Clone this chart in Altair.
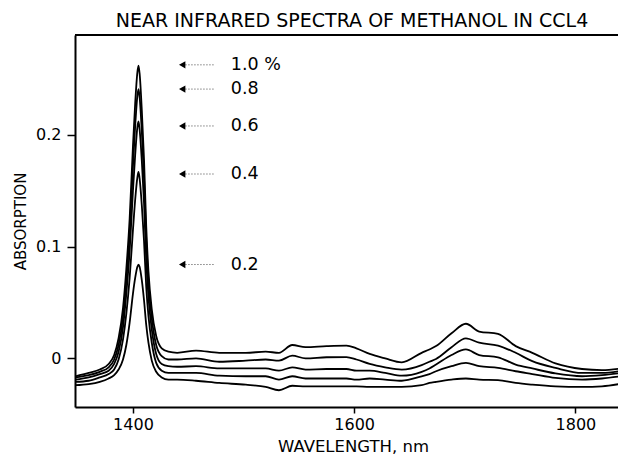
import altair as alt
import pandas as pd

TITLE = "NEAR INFRARED SPECTRA OF METHANOL IN CCL4"

# Wavelength grid (nm)
wavelength = [1348, 1360, 1370, 1378, 1383, 1387, 1391, 1394, 1397, 1400,
              1402, 1404, 1405, 1406, 1408, 1410, 1412, 1414, 1417, 1421,
              1426, 1432, 1440, 1457, 1478, 1502, 1520, 1532, 1544, 1556,
              1575, 1593, 1602, 1614, 1628, 1643, 1661, 1668, 1674, 1688,
              1701, 1713, 1730, 1746, 1761, 1782, 1806, 1824, 1845]

abs_10 = [-0.016, -0.013, -0.010, -0.005, 0.003, 0.018, 0.045, 0.080, 0.125, 0.190,
          0.228, 0.256, 0.262, 0.255, 0.222, 0.178, 0.118, 0.078, 0.044, 0.020,
          0.009, 0.006, 0.005, 0.007, 0.005, 0.005, 0.006, 0.005, 0.012, 0.010,
          0.011, 0.0115, 0.009, 0.004, 0.000, -0.0035, 0.005, 0.008, 0.011, 0.0225,
          0.031, 0.024, 0.022, 0.011, 0.005, -0.0045, -0.0095, -0.0105, -0.0085]

abs_08 = [-0.017, -0.015, -0.012, -0.008, -0.001, 0.012, 0.037, 0.070, 0.112, 0.172,
          0.208, 0.235, 0.241, 0.234, 0.203, 0.161, 0.106, 0.068, 0.036, 0.012,
          0.002, -0.001, -0.001, 0.000, -0.003, -0.002, -0.001, -0.002, 0.0025, 0.000,
          0.001, 0.0012, -0.001, -0.005, -0.008, -0.010, -0.006, -0.003, -0.0005, 0.010,
          0.018, 0.014, 0.0115, 0.005, -0.0025, -0.0085, -0.013, -0.013, -0.0105]

abs_06 = [-0.019, -0.017, -0.014, -0.011, -0.005, 0.006, 0.028, 0.058, 0.096, 0.150,
          0.182, 0.207, 0.212, 0.205, 0.177, 0.139, 0.088, 0.055, 0.026, 0.004,
          -0.005, -0.007, -0.0075, -0.007, -0.009, -0.009, -0.009, -0.011, -0.008, -0.010,
          -0.0095, -0.0095, -0.011, -0.011, -0.013, -0.0155, -0.012, -0.009, -0.0055, 0.003,
          0.008, 0.003, 0.001, -0.0055, -0.009, -0.0135, -0.016, -0.015, -0.0125]

abs_04 = [-0.021, -0.020, -0.017, -0.014, -0.010, -0.001, 0.017, 0.040, 0.072, 0.115,
          0.142, 0.162, 0.167, 0.161, 0.137, 0.105, 0.064, 0.038, 0.014, -0.004,
          -0.011, -0.013, -0.013, -0.013, -0.0155, -0.016, -0.016, -0.019, -0.016, -0.018,
          -0.018, -0.018, -0.019, -0.018, -0.019, -0.020, -0.016, -0.014, -0.0115, -0.007,
          -0.004, -0.007, -0.0085, -0.0115, -0.014, -0.0175, -0.019, -0.018, -0.0155]

abs_02 = [-0.024, -0.023, -0.021, -0.018, -0.015, -0.010, -0.001, 0.012, 0.032, 0.058,
          0.072, 0.082, 0.084, 0.082, 0.070, 0.052, 0.030, 0.014, -0.002, -0.012,
          -0.017, -0.019, -0.019, -0.020, -0.022, -0.0235, -0.0255, -0.0285, -0.0245, -0.025,
          -0.025, -0.025, -0.025, -0.0255, -0.0255, -0.0255, -0.024, -0.022, -0.021, -0.019,
          -0.018, -0.019, -0.0195, -0.022, -0.0235, -0.025, -0.0255, -0.025, -0.022]

series = {"1.0": abs_10, "0.8": abs_08, "0.6": abs_06, "0.4": abs_04, "0.2": abs_02}

# Annotations (arrow levels and labels)
ann_labels = ["1.0 %", "0.8", "0.6", "0.4", "0.2"]
ann_levels = [0.2627, 0.241, 0.208, 0.165, 0.084]
arrow_tip_nm = 1444.5
arrow_tail_nm = 1473.5
label_nm = 1488.5

rows = []
for conc, vals in series.items():
    assert len(vals) == len(wavelength)
    for w, v in zip(wavelength, vals):
        rows.append({"wavelength": w, "absorption": v, "conc": conc})
df = pd.DataFrame(rows)

ann = pd.DataFrame({
    "label": ann_labels,
    "y": ann_levels,
    "tip": [arrow_tip_nm] * 5,
    "tail": [arrow_tail_nm] * 5,
    "lx": [label_nm] * 5,
})

W, H = 543, 372
FONT = "DejaVu Sans"
xscale = alt.Scale(domain=[1347.6, 1838.5], nice=False, zero=False)
yscale = alt.Scale(domain=[-0.0435, 0.2894], nice=False, zero=False)

xaxis = alt.Axis(values=[1400, 1600, 1800], format="d", title="WAVELENGTH, nm",
                 grid=False, tickSize=6, tickWidth=1.5, tickColor="black",
                 domainColor="black", domainWidth=2, labelFontSize=16,
                 labelPadding=3, labelColor="black", labelFont=FONT,
                 titleFont=FONT, titleFontSize=16.5, titleFontWeight="normal",
                 titleColor="black", titleX=278, titleY=39,
                 titleAlign="center", titleBaseline="middle")
yaxis = alt.Axis(values=[0, 0.1, 0.2], format="~g", title="ABSORPTION",
                 grid=False, tickSize=8, tickWidth=1.5, tickColor="black",
                 domainColor="black", domainWidth=2, labelFontSize=16,
                 labelPadding=6, labelColor="black", labelFont=FONT,
                 titleFont=FONT, titleFontSize=15, titleFontWeight="normal",
                 titleColor="black", titleX=-55, titleY=186, titleAngle=-90,
                 titleAlign="center", titleBaseline="middle")

lines = alt.Chart(df).mark_line(interpolate="monotone", color="black",
                                strokeWidth=1.8, clip=True).encode(
    x=alt.X("wavelength:Q", scale=xscale, axis=xaxis),
    y=alt.Y("absorption:Q", scale=yscale, axis=yaxis),
    detail="conc:N",
)

# top frame line
topline = alt.Chart(ann).mark_rule(color="black", strokeWidth=2).encode(
    x=alt.value(0), x2=alt.value(W), y=alt.value(0)
)

title = alt.Chart(pd.DataFrame({"t": [TITLE]})).mark_text(
    align="center", baseline="alphabetic", fontSize=19, font=FONT,
    color="black").encode(text="t:N", x=alt.value(277), y=alt.value(-8))

rules = alt.Chart(ann).mark_rule(color="#808080", strokeWidth=1,
                                 strokeDash=[1.5, 1.5]).encode(
    x=alt.X("tip:Q", scale=xscale), x2="tail:Q",
    y=alt.Y("y:Q", scale=yscale),
)

heads = alt.Chart(ann).mark_point(shape="triangle-left", filled=True,
                                  color="black", opacity=1, size=55).encode(
    x=alt.X("tip:Q", scale=xscale),
    y=alt.Y("y:Q", scale=yscale),
)

labels = alt.Chart(ann).mark_text(align="left", baseline="middle",
                                  fontSize=17.5, font=FONT,
                                  color="black").encode(
    x=alt.X("lx:Q", scale=xscale),
    y=alt.Y("y:Q", scale=yscale),
    text="label:N",
)

chart = alt.layer(lines, topline, title, rules, heads, labels).properties(
    width=W, height=H,
    autosize=alt.AutoSizeParams(type="none"),
    padding={"left": 67, "top": 27, "right": 0, "bottom": 47},
).configure_view(stroke=None).configure(background="white")

chart.save("out.html", embed_options={"renderer": "svg", "actions": False})
